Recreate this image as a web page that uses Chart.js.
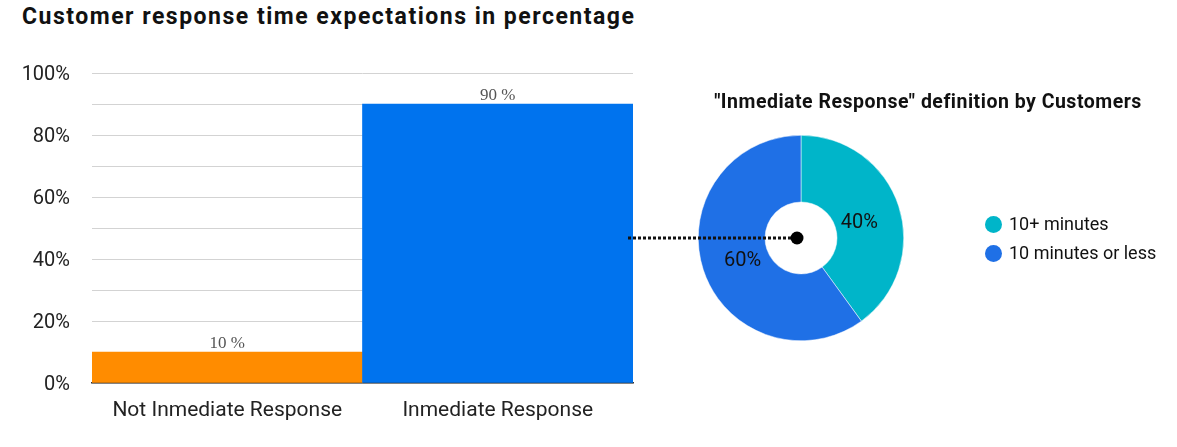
<!DOCTYPE html>
<html>
<head>
<meta charset="utf-8">
<script src="https://cdn.jsdelivr.net/npm/chart.js@4/dist/chart.umd.min.js"></script>
<style>
body{margin:0;width:1177px;height:447px;background:#fff;overflow:hidden;position:relative;font-family:Roboto,sans-serif;}
#title{position:absolute;left:22px;top:3px;font-size:23px;letter-spacing:1.5px;font-weight:bold;color:#111;white-space:nowrap;}
#barCanvas{position:absolute;left:0;top:0;}
#pieCanvas{position:absolute;left:628px;top:0;}
#pieTitle{position:absolute;left:628px;width:600px;top:90px;text-align:center;font-size:19.5px;letter-spacing:0.5px;font-weight:bold;color:#111;white-space:nowrap;}
#legend{position:absolute;left:985px;top:213px;font-size:18px;color:#111;}
.item{height:29px;display:flex;align-items:flex-start;}
.dot{width:17px;height:17px;border-radius:50%;margin-right:7px;margin-top:3px;}
</style>
</head>
<body>
<div id="title">Customer response time expectations in percentage</div>
<canvas id="barCanvas" width="640" height="447"></canvas>
<canvas id="pieCanvas" width="549" height="447"></canvas>
<div id="pieTitle">"Inmediate Response" definition by Customers</div>
<div id="legend"></div>
<script>
'use strict';
// bar chart data
let barCategories = ['Not Inmediate Response', 'Inmediate Response'];
let barValues = [10, 90];
let barColors = ['#ff8c00', '#0073ee'];
let yTicks = [0, 20, 40, 60, 80, 100];

// doughnut data
let pieLabels = ['10+ minutes', '10 minutes or less'];
let pieValues = [40, 60];
let pieColors = ['#00b5c9', '#1f70e6'];

const barLabels = {
  id: 'barLabels',
  afterDatasetsDraw(chart) {
    let ctx = chart.ctx;
    let meta = chart.getDatasetMeta(0);
    ctx.save();
    ctx.font = '17px "Liberation Serif", serif';
    ctx.fillStyle = '#555';
    ctx.textAlign = 'center';
    ctx.textBaseline = 'bottom';
    meta.data.forEach((bar, i) => {
      ctx.fillText(barValues[i] + ' %', bar.x, bar.y);
    });
    ctx.restore();
  }
};

new Chart(document.getElementById('barCanvas'), {
  type: 'bar',
  data: {
    labels: barCategories,
    datasets: [{
      data: barValues,
      backgroundColor: barColors,
      barPercentage: 1,
      categoryPercentage: 1,
      borderWidth: 0
    }]
  },
  options: {
    responsive: false,
    animation: false,
    layout: {padding: {top: 73, right: 7, left: 0, bottom: 0}},
    plugins: {legend: {display: false}, tooltip: {enabled: false}},
    scales: {
      x: {
        grid: {display: false, drawTicks: false},
        border: {color: '#333', width: 1.5},
        ticks: {font: {size: 21, family: 'Roboto'}, color: '#222', padding: 15},
        afterFit(s) { s.height = 64; }
      },
      y: {
        min: 0,
        max: 100,
        grid: {color: '#d3d3d3', drawTicks: false},
        border: {display: false},
        ticks: {
          stepSize: 10,
          autoSkip: false,
          padding: 22,
          labelOffset: 2,
          font: {size: 20, family: 'Roboto'},
          color: '#222',
          callback: v => yTicks.includes(v) ? v + '%' : ''
        },
        afterFit(s) { s.width = 92; }
      }
    }
  },
  plugins: [barLabels]
});

const pieExtras = {
  id: 'pieExtras',
  afterDatasetsDraw(chart) {
    let ctx = chart.ctx;
    let meta = chart.getDatasetMeta(0);
    let cx = meta.data[0].x, cy = meta.data[0].y;
    ctx.save();
    // slice labels
    ctx.font = '20px Roboto';
    ctx.fillStyle = '#111';
    ctx.textAlign = 'center';
    ctx.textBaseline = 'middle';
    let total = pieValues.reduce((a, b) => a + b, 0);
    meta.data.forEach((arc, i) => {
      let mid = (arc.startAngle + arc.endAngle) / 2;
      let r = (arc.innerRadius + arc.outerRadius) / 2 - 8;
      ctx.fillText(Math.round(pieValues[i] / total * 100) + '%', cx + Math.cos(mid) * r, cy + Math.sin(mid) * r + 4);
    });
    // dotted connector from bar to centre
    ctx.strokeStyle = '#111';
    ctx.lineWidth = 3;
    ctx.setLineDash([3, 2]);
    ctx.beginPath();
    ctx.moveTo(0, cy);
    ctx.lineTo(cx - 4, cy);
    ctx.stroke();
    ctx.setLineDash([]);
    ctx.fillStyle = '#000';
    ctx.beginPath();
    ctx.arc(cx - 4, cy, 6.5, 0, Math.PI * 2);
    ctx.fill();
    ctx.restore();
  }
};

new Chart(document.getElementById('pieCanvas'), {
  type: 'doughnut',
  data: {
    labels: pieLabels,
    datasets: [{
      data: pieValues,
      backgroundColor: pieColors,
      borderColor: '#ffffff',
      borderWidth: 0.5
    }]
  },
  options: {
    responsive: false,
    animation: false,
    cutout: '35%',
    layout: {padding: {left: 70, right: 273, top: 135, bottom: 106}},
    plugins: {legend: {display: false}, tooltip: {enabled: false}}
  },
  plugins: [pieExtras]
});

// legend built from the same arrays
let legend = document.getElementById('legend');
pieLabels.forEach((name, i) => {
  let item = document.createElement('div');
  item.className = 'item';
  let dot = document.createElement('span');
  dot.className = 'dot';
  dot.style.background = pieColors[i];
  let txt = document.createElement('span');
  txt.textContent = name;
  item.appendChild(dot);
  item.appendChild(txt);
  legend.appendChild(item);
});
</script>
</body>
</html>
